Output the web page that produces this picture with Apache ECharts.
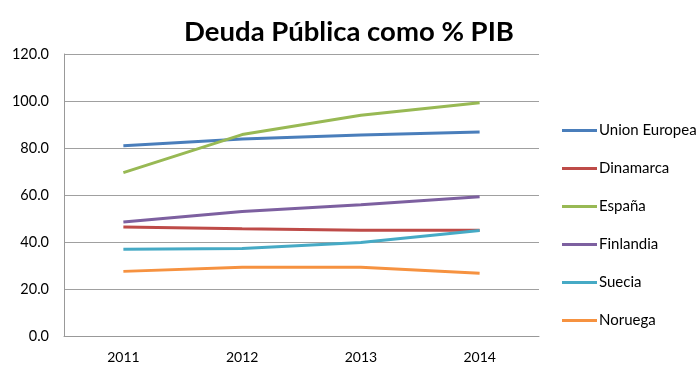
<!DOCTYPE html>
<html><head><meta charset="utf-8">
<script src="https://cdn.jsdelivr.net/npm/echarts@6/dist/echarts.min.js"></script>
<style>html,body{margin:0;padding:0;background:#fff}#c{width:698px;height:378px}</style>
</head><body><div id="c"></div>
<script>
const years = ['2011','2012','2013','2014'];
const seriesNames = ['Union Europea','Dinamarca','España','Finlandia','Suecia','Noruega'];
const unionEuropea = [81.0, 83.8, 85.5, 86.8];
const dinamarca = [46.4, 45.6, 45.0, 45.0];
const espana = [69.5, 85.7, 93.9, 99.3];
const finlandia = [48.5, 53.0, 55.9, 59.3];
const suecia = [36.9, 37.2, 39.8, 44.9];
const noruega = [27.5, 29.3, 29.3, 26.7];
const colors = ['#4A7EBB','#BE4B48','#98B954','#7D60A0','#46AAC5','#F69240'];
const values = [unionEuropea, dinamarca, espana, finlandia, suecia, noruega];
const font = 'Lato, "Open Sans", sans-serif';
const chart = echarts.init(document.getElementById('c'), null, {renderer:'canvas'});
chart.setOption({
  animation:false,
  color: colors,
  title:{text:'Deuda Pública como % PIB', left:'center', top:13,
    textStyle:{fontFamily:font, fontWeight:'bold', fontSize:27.5, color:'#000'}},
  grid:{left:64, right:159, top:54, bottom:42},
  legend:{orient:'vertical', left:557, top:118, itemGap:23, icon:'rect', itemWidth:35, itemHeight:3,
    textStyle:{fontFamily:font, fontSize:15, color:'#000', padding:[0,0,0,-3]},
    data: seriesNames},
  xAxis:{type:'category', data:years, boundaryGap:true,
    axisLine:{lineStyle:{color:'#999', width:1}}, axisTick:{show:false},
    axisLabel:{fontFamily:font, fontSize:14, color:'#000', margin:14}},
  yAxis:{type:'value', min:0, max:120, interval:20,
    axisLine:{show:true, lineStyle:{color:'#999'}}, axisTick:{show:false},
    splitLine:{lineStyle:{color:'#a0a0a0', width:1}},
    axisLabel:{fontFamily:font, fontSize:14.5, color:'#000', margin:15, formatter:v=>v.toFixed(1)}},
  series: seriesNames.map((n,i)=>({name:n, type:'line', data:values[i], showSymbol:false, symbol:'none',
    lineStyle:{width:3, color:colors[i]}, itemStyle:{color:colors[i]}}))
});
</script></body></html>
